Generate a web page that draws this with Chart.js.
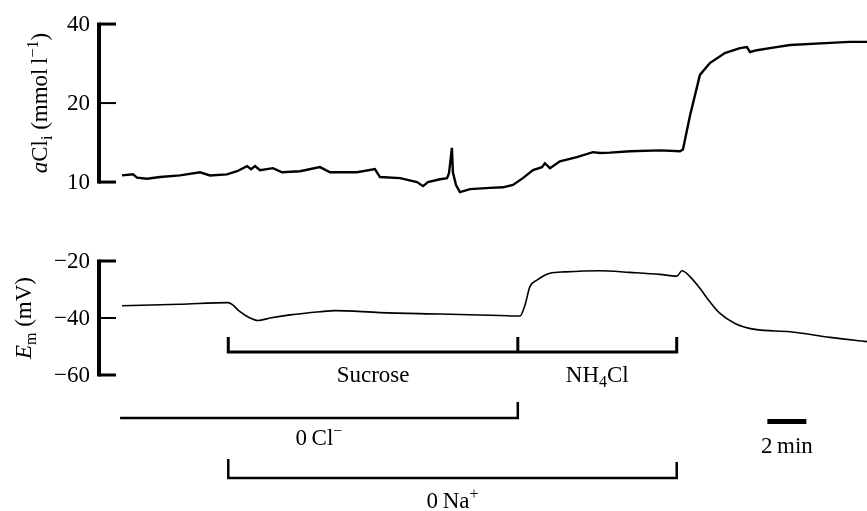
<!DOCTYPE html>
<html>
<head>
<meta charset="utf-8">
<script src="https://cdn.jsdelivr.net/npm/chart.js@4.4.0/dist/chart.umd.min.js"></script>
<style>
  html, body { margin: 0; padding: 0; background: #fff; }
</style>
</head>
<body>
<canvas id="trace" width="867" height="511"></canvas>
<script>
// time axis is in minutes from the start of the recording
const clTime = [0, 0.56, 0.77, 1.28, 1.95, 2.97, 4.0, 4.51, 5.38, 5.9, 6.41, 6.62, 6.82, 7.08, 7.74, 8.21,
  9.13, 10.15, 10.67, 12.05, 12.97, 13.23, 14.26, 15.13, 15.44, 15.69, 16.31, 16.67, 16.77, 16.92, 16.97,
  17.13, 17.33, 17.85, 18.87, 19.54, 20.05, 20.56, 21.08, 21.54, 21.69, 21.95, 22.46, 23.33, 24.15, 24.51,
  25.03, 26.05, 27.59, 28.62, 28.77, 29.13, 29.64, 30.15, 30.92, 31.69, 32.05, 32.21, 32.56, 33.23, 34.26,
  36.31, 37.33, 38.21];
const clValues = [10.6, 10.7, 10.4, 10.3, 10.45, 10.6, 10.9, 10.6, 10.7, 11.0, 11.5, 11.2, 11.5, 11.1, 11.3, 10.9,
  11.0, 11.4, 10.9, 10.9, 11.2, 10.45, 10.35, 10.0, 9.65, 10.0, 10.25, 10.35, 10.8, 13.5, 10.9,
  9.75, 9.15, 9.4, 9.5, 9.55, 9.75, 10.35, 11.1, 11.4, 11.8, 11.3, 12.0, 12.45, 13.0, 12.9,
  12.95, 13.1, 13.2, 13.1, 13.3, 17.9, 25.6, 28.4, 31.0, 32.4, 32.7, 31.3, 31.8, 32.4, 33.3,
  33.9, 34.2, 34.2];

const emTime = [0, 2.97, 5.44, 5.69, 6.05, 6.56, 6.97, 7.59, 8.62, 10.15, 10.92, 13.23, 16.31, 19.38, 20.41,
  20.67, 20.92, 21.28, 21.95, 22.72, 24.51, 26.05, 27.59, 28.46, 28.72, 29.13, 29.64, 30.15, 30.67, 31.44,
  32.46, 34.26, 36.31, 38.21];
const emValues = [-35.7, -35.2, -34.6, -35.5, -37.8, -40.0, -40.9, -40.0, -38.9, -37.8, -37.4, -38.1, -38.6, -39.1, -39.3,
  -35.4, -29.0, -26.7, -24.3, -23.8, -23.4, -24.0, -24.7, -25.3, -23.4, -25.5, -29.6, -34.3, -38.4, -41.9,
  -44.0, -44.8, -46.8, -48.3];

const clTicks = [10, 20, 40];
const emTicks = [-20, -40, -60];

// bath changes, [start, end] in min
const sucrosePeriod = [5.45, 20.3];
const nh4clPeriod = [20.3, 28.45];
const zeroClPeriod = [-0.1, 20.3];
const zeroNaPeriod = [5.45, 28.45];
const scaleBarStart = 33.1;
const scaleBarMinutes = 2;

const FONT = '"Liberation Serif", "Times New Roman", serif';

function fontFor(part, size) {
  return (part.italic ? 'italic ' : '') + size + 'px ' + FONT;
}

// draws mixed text (italic / sub / sup pieces) centred on x, baseline y
function drawRich(ctx, parts, x, y, size) {
  const small = Math.round(size * 0.68);
  let total = 0;
  parts.forEach(p => {
    ctx.font = fontFor(p, p.sub || p.sup ? small : size);
    p.w = ctx.measureText(p.t).width;
    total += p.w;
  });
  let cx = x - total / 2;
  ctx.textAlign = 'left';
  ctx.textBaseline = 'alphabetic';
  parts.forEach(p => {
    ctx.font = fontFor(p, p.sub || p.sup ? small : size);
    const dy = p.sub ? size * 0.22 : p.sup ? -size * 0.38 : 0;
    ctx.fillText(p.t, cx, y + dy);
    cx += p.w;
  });
}

function fmtTick(v) {
  return v < 0 ? '\u2212' + Math.abs(v) : String(v);
}

const tracePlugin = {
  id: 'traceFurniture',
  afterDraw(chart) {
    const ctx = chart.ctx;
    const xs = chart.scales.x;
    const yCl = chart.scales.yCl;
    const yEm = chart.scales.yEm;
    ctx.save();
    ctx.fillStyle = '#000';
    ctx.strokeStyle = '#000';
    ctx.lineCap = 'butt';

    // vertical calibration bars with inward ticks
    const axisX = 99;
    [[yCl, clTicks], [yEm, emTicks]].forEach(([scale, ticks]) => {
      const py = ticks.map(v => scale.getPixelForValue(v));
      const top = Math.min(...py), bottom = Math.max(...py);
      ctx.lineWidth = 4;
      ctx.beginPath();
      ctx.moveTo(axisX, top - 1.5);
      ctx.lineTo(axisX, bottom + 1.5);
      ctx.stroke();
      py.forEach((p, i) => {
        ctx.lineWidth = (p === top || p === bottom) ? 3 : 2;
        ctx.beginPath();
        ctx.moveTo(axisX, p);
        ctx.lineTo(116, p);
        ctx.stroke();
        ctx.font = '23px ' + FONT;
        ctx.textAlign = 'right';
        ctx.textBaseline = 'middle';
        ctx.fillText(fmtTick(ticks[i]), 90, p + 1);
      });
    });

    // rotated axis titles
    const clMid = (yCl.getPixelForValue(10) + yCl.getPixelForValue(40)) / 2;
    const emMid = (yEm.getPixelForValue(-20) + yEm.getPixelForValue(-60)) / 2;
    ctx.save();
    ctx.translate(47, clMid);
    ctx.rotate(-Math.PI / 2);
    drawRich(ctx, [
      { t: 'a', italic: true }, { t: 'Cl' }, { t: 'i', sub: true },
      { t: ' (mmol\u2009l' }, { t: '\u22121', sup: true }, { t: ')' }
    ], 0, 0, 23);
    ctx.restore();
    ctx.save();
    ctx.translate(31, emMid);
    ctx.rotate(-Math.PI / 2);
    drawRich(ctx, [{ t: 'E', italic: true }, { t: 'm', sub: true }, { t: ' (mV)' }], 0, 0, 23);
    ctx.restore();

    // solution bars
    const px = t => xs.getPixelForValue(t);
    function bracket(x1, x2, base, lw, leftTop, rightTop) {
      ctx.lineWidth = lw;
      ctx.beginPath();
      if (leftTop !== null) { ctx.moveTo(x1, leftTop); ctx.lineTo(x1, base); } else { ctx.moveTo(x1, base); }
      ctx.lineTo(x2, base);
      if (rightTop !== null) ctx.lineTo(x2, rightTop);
      ctx.stroke();
    }
    ctx.lineJoin = 'miter';
    bracket(px(sucrosePeriod[0]), px(nh4clPeriod[1]), 352, 3, 337, 337);
    ctx.lineWidth = 3;
    ctx.beginPath();
    ctx.moveTo(px(sucrosePeriod[1]), 337);
    ctx.lineTo(px(sucrosePeriod[1]), 352);
    ctx.stroke();
    bracket(px(zeroClPeriod[0]), px(zeroClPeriod[1]), 418, 2.5, null, 402);
    bracket(px(zeroNaPeriod[0]), px(zeroNaPeriod[1]), 478, 2.5, 459, 462);

    drawRich(ctx, [{ t: 'Sucrose' }], (px(sucrosePeriod[0]) + px(sucrosePeriod[1])) / 2, 382, 23);
    drawRich(ctx, [{ t: 'NH' }, { t: '4', sub: true }, { t: 'Cl' }],
      (px(nh4clPeriod[0]) + px(nh4clPeriod[1])) / 2, 382, 23);
    drawRich(ctx, [{ t: '0\u2009Cl' }, { t: '\u2212', sup: true }],
      (px(zeroClPeriod[0]) + px(zeroClPeriod[1])) / 2, 445, 23);
    drawRich(ctx, [{ t: '0\u2009Na' }, { t: '+', sup: true }],
      (px(zeroNaPeriod[0]) + px(zeroNaPeriod[1])) / 2, 508, 23);

    // time calibration bar
    const s1 = px(scaleBarStart), s2 = px(scaleBarStart + scaleBarMinutes);
    ctx.lineWidth = 5;
    ctx.beginPath();
    ctx.moveTo(s1, 421.5);
    ctx.lineTo(s2, 421.5);
    ctx.stroke();
    drawRich(ctx, [{ t: scaleBarMinutes + '\u2009min' }], (s1 + s2) / 2, 453, 23);

    ctx.restore();
  }
};

new Chart(document.getElementById('trace'), {
  type: 'line',
  data: {
    datasets: [
      {
        label: 'aCli',
        data: clTime.map((t, i) => ({ x: t, y: clValues[i] })),
        yAxisID: 'yCl',
        borderColor: '#000',
        borderWidth: 2.4,
        pointRadius: 0,
        tension: 0,
      },
      {
        label: 'Em',
        data: emTime.map((t, i) => ({ x: t, y: emValues[i] })),
        yAxisID: 'yEm',
        borderColor: '#000',
        borderWidth: 1.6,
        pointRadius: 0,
        cubicInterpolationMode: 'monotone',
      },
    ],
  },
  options: {
    responsive: false,
    animation: false,
    devicePixelRatio: 1,
    layout: { padding: { left: 100, right: 0, top: 0, bottom: 0 } },
    scales: {
      x: { type: 'linear', min: -1.13, max: 38.21, bounds: 'data', display: false },
      yCl: { type: 'logarithmic', min: 0.558, max: 49.4, bounds: 'data', display: false },
      yEm: { type: 'linear', min: -107.72, max: 71.58, bounds: 'data', display: false },
    },
    plugins: {
      legend: { display: false },
      tooltip: { enabled: false },
    },
  },
  plugins: [tracePlugin],
});
</script>
</body>
</html>
